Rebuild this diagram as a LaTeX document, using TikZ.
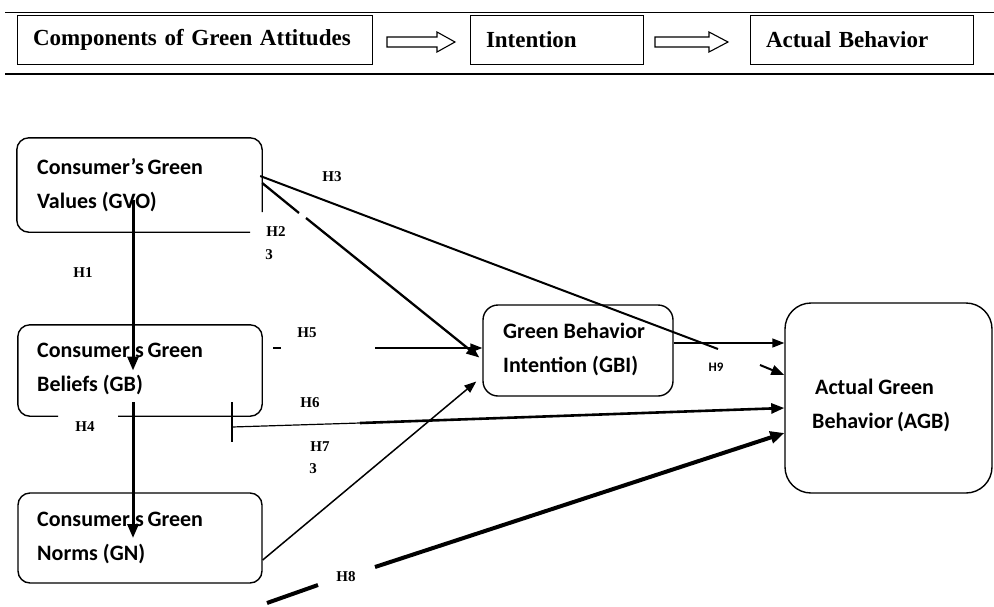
\documentclass[tikz,border=0pt]{standalone}
\usepackage{fontspec}
\setmainfont{Liberation Serif}
\newfontfamily\calib{Carlito}
\usetikzlibrary{arrows.meta,calc}
\begin{document}
\begin{tikzpicture}[x=1pt,y=-1pt,
  topbox/.style={draw,line width=1pt,inner ysep=0pt,inner xsep=16pt,minimum height=49pt,align=left,
    font=\bfseries\fontsize{23}{23}\selectfont},
  hollow/.style={draw,line width=1.1pt,fill=white},
  box/.style={draw,line width=1.4pt,inner sep=0pt,rounded corners=#1},
  box/.default=12pt,
  openbox/.style={inner sep=0pt},
  border/.style={line width=1.4pt,rounded corners=12pt},
  boxtext/.style={font=\calib\bfseries\fontsize{22}{34}\selectfont,align=left,anchor=west,inner sep=0pt},
  hlab/.style={font=\bfseries\fontsize{15}{15}\selectfont,inner sep=0pt},
  thickarr/.style={line width=3pt,-{Triangle[length=14pt,width=11pt]}},
  medarr/.style={line width=2.3pt,-{Triangle[length=13pt,width=10pt]}},
  thinarr/.style={line width=1.5pt,-{Triangle[length=12pt,width=9pt]}},
  heavyarr/.style={line width=4pt,-{Triangle[length=14pt,width=12pt]}},
]
\useasboundingbox (0,0) rectangle (994,606);
\fill[white] (0,0) rectangle (994,606);

% ---- top band ----
\draw[line width=1pt] (5,12) -- (994,12);
\draw[line width=2pt] (5,74) -- (994,74);
\node[topbox,text width=323pt] (c1) at (194.5,39.5) {Components of Green Attitudes};
\node[topbox,text width=141pt] (c2) at (556.5,39.5) {Intention};
\node[topbox,text width=191pt] (c3) at (861.5,39.5) {Actual Behavior};
\draw[hollow] (387,37) -- (437,37) -- (437,32) -- (455,42) -- (437,52) -- (437,47) -- (387,47) -- cycle;
\draw[hollow] (655,37) -- (709,37) -- (709,32) -- (728,42) -- (709,52) -- (709,47) -- (655,47) -- cycle;

% ---- boxes ----
\node[openbox,minimum width=245pt,minimum height=94pt] (gvo) at (139.5,185) {};
\draw[border] (gvo.east |- 0,212) -- (gvo.north east) -- (gvo.north west) -- (gvo.south west) -- (gvo.south -| 250,0);
\node[boxtext] (gvot) at (37,185) {Consumer’s\,Green\\Values (GVO)};
\node[openbox,minimum width=244pt,minimum height=91pt] (gb) at (140,370.5) {};
\draw[border] (gb.south -| 118,0) -- (gb.south east) -- (gb.north east) -- (gb.north west) -- (gb.south west) -- (gb.south -| 58,0);
\node[boxtext] (gbt) at (37,368) {Consumer’s\,Green\\Beliefs (GB)};
\node[box,minimum width=244pt,minimum height=90pt] (gn) at (140,538) {};
\node[boxtext] (gnt) at (37,537) {Consumer’s\,Green\\Norms (GN)};
\node[box=15pt,minimum width=190pt,minimum height=91pt] (gbi) at (578,350.5) {};
\node[boxtext] (gbit) at (503,349) {Green Behavior\\Intention (GBI)};
\node[box=26pt,minimum width=207pt,minimum height=190pt] (agb) at (888.5,398) {};
\node[boxtext] (agbt) at (812,405) {\hspace{3pt}Actual Green\\Behavior\,(AGB)};

% ---- free coordinates ----
\coordinate (h1s) at (133,200);
\coordinate (h4s) at (133,402);
\coordinate (h2a) at (299,213);
\coordinate (h2b) at (306,218);
\coordinate (h3a) at (718,349);
\coordinate (h3b) at (760,365);
\coordinate (h5a) at (273,348);
\coordinate (h5b) at (281,348);
\coordinate (h5c) at (375,348);
\coordinate (t6a) at (232,402);
\coordinate (t6b) at (232,442);
\coordinate (h6a) at (232,427);
\coordinate (h6b) at (360,423);
\coordinate (h8a) at (267,603);
\coordinate (h8b) at (318,585);
\coordinate (h8c) at (375,567);

% ---- connectors ----
\draw[thickarr] (h1s) -- (h1s |- gb.center);
\draw[thickarr] (h4s) -- (h4s |- gn.center);
\draw[line width=2.3pt] ($(gvo.east)+(0,-2)$) -- (h2a);
\draw[medarr] (h2b) -- ($(gbi.west)+(-3,7)$);
\draw[line width=2pt] ($(gvo.east)+(-2,-9)$) -- (h3a);
\draw[medarr,line width=2pt] (h3b) -- (agb.west |- 0,375);
\draw[thinarr] (gbi.east |- 0,343) -- (agb.west |- 0,343);
\draw[line width=1.5pt] (h5a) -- (h5b);
\draw[thinarr] (h5c) -- (gbi.west |- 0,348);
\draw[line width=1.2pt] (t6a) -- (t6b);
\draw[line width=1.2pt] (h6a) -- (h6b);
\draw[medarr,line width=2.6pt] (h6b) -- (agb.west |- 0,408);
\draw[thinarr] (gn.east |- 0,560) -- ($(gbi.west)+(-6,31)$);
\draw[line width=4pt] (h8a) -- (h8b);
\draw[heavyarr] (h8c) -- (agb.west |- 0,433);

% ---- labels ----
\node[hlab] (l1) at (83,273) {H1};
\node[hlab] (l2) at (276,232) {H2};
\node[hlab] (l2b) at (269,255) {3};
\node[hlab] (l3) at (332,177) {H3};
\node[hlab] (l4) at (85,427) {H4};
\node[hlab] (l5) at (307,333) {H5};
\node[hlab] (l6) at (310,403) {H6};
\node[hlab] (l7) at (320,447) {H7};
\node[hlab] (l7b) at (313,469) {3};
\node[hlab] (l8) at (346,577) {H8};
\node[hlab,font=\calib\bfseries\fontsize{13}{13}\selectfont] (l9) at (716,367) {H9};
\end{tikzpicture}
\end{document}
